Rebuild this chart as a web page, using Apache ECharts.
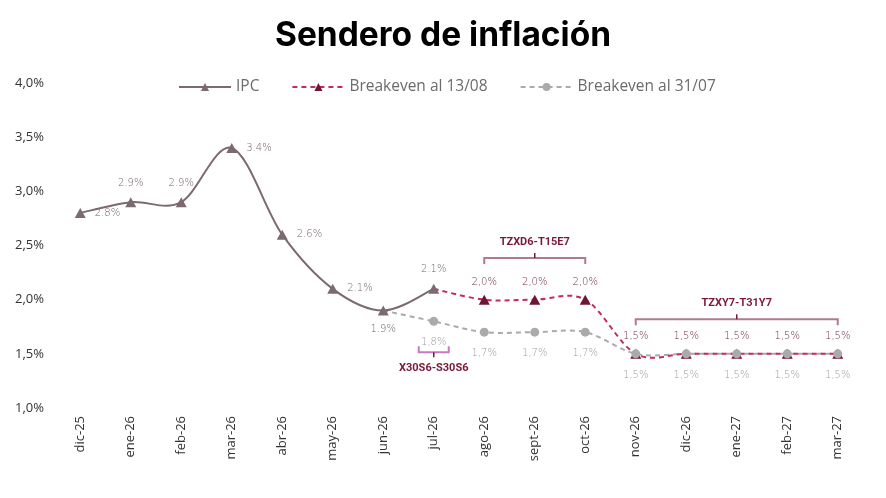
<!DOCTYPE html>
<html lang="es">
<head>
    <meta charset="UTF-8">
    <title>Sendero de inflación</title>
    <script src="https://cdn.jsdelivr.net/npm/echarts@6/dist/echarts.min.js"></script>
    <style>
        html, body { margin: 0; padding: 0; background: #fff; }
        #chart { width: 886px; height: 498px; }
    </style>
</head>
<body>
<div id="chart"></div>
<script>
    // datos
    const meses = ['dic-25', 'ene-26', 'feb-26', 'mar-26', 'abr-26', 'may-26', 'jun-26', 'jul-26',
        'ago-26', 'sept-26', 'oct-26', 'nov-26', 'dic-26', 'ene-27', 'feb-27', 'mar-27'];
    const ipc = [2.8, 2.9, 2.9, 3.4, 2.6, 2.1, 1.9, 2.1];
    const be1308 = [null, null, null, null, null, null, null, 2.1, 2.0, 2.0, 2.0, 1.5, 1.5, 1.5, 1.5, 1.5];
    const be3107 = [null, null, null, null, null, null, 1.9, 1.8, 1.7, 1.7, 1.7, 1.5, 1.5, 1.5, 1.5, 1.5];
    const ipcLabelPos = ['right', 'top', 'top', 'right', 'right', 'right', 'bottom', 'top'];
    // bonos: [desde, hasta, nivel, nombre]
    const bonos = [
        [8, 10, 2.385, 'TZXD6-T15E7'],
        [11, 15, 1.82, 'TZXY7-T31Y7'],
        [7, 7, 1.515, 'X30S6-S30S6']
    ];

    const C_IPC = '#7b6a6f', C_BE1 = '#c42a5c', C_BE1M = '#6e1434', C_BE2 = '#aaaaaa';
    const coma = v => v.toFixed(1).replace('.', ',') + '%';

    // curva suavizada estilo Excel (Catmull-Rom) sobre las coordenadas del eje
    function curva(vals, color, dash, z) {
        return {
            type: 'custom',
            silent: true,
            z: z,
            data: [[0, vals.find(v => v != null)]],
            renderItem: function (params, api) {
                const pts = [];
                vals.forEach((v, i) => { if (v != null) pts.push(api.coord([i, v])); });
                let d = 'M' + pts[0][0] + ' ' + pts[0][1];
                for (let k = 0; k < pts.length - 1; k++) {
                    const p0 = pts[k - 1] || pts[k], p1 = pts[k], p2 = pts[k + 1], p3 = pts[k + 2] || pts[k + 1];
                    const c1x = p1[0] + (p2[0] - p0[0]) / 6, c1y = p1[1] + (p2[1] - p0[1]) / 6;
                    const c2x = p2[0] - (p3[0] - p1[0]) / 6, c2y = p2[1] - (p3[1] - p1[1]) / 6;
                    d += ' C' + c1x + ' ' + c1y + ' ' + c2x + ' ' + c2y + ' ' + p2[0] + ' ' + p2[1];
                }
                return {
                    type: 'path',
                    shape: {pathData: d},
                    style: {stroke: color, lineWidth: 2, fill: null, lineDash: dash}
                };
            }
        };
    }

    const etiqueta = {
        show: true,
        fontFamily: 'DejaVu Sans',
        fontWeight: 200,
        fontSize: 10
    };

    let myChart = echarts.init(document.getElementById('chart'));

    let option = {
        animation: false,
        title: {
            text: 'Sendero de inflación',
            left: 'center',
            top: 14,
            textStyle: {fontFamily: 'Inter', fontWeight: 'bold', fontSize: 33.5, color: '#000'}
        },
        legend: {
            top: 74,
            left: 173,
            itemWidth: 52,
            itemHeight: 10,
            itemGap: 32,
            textStyle: {fontFamily: 'Open Sans', fontSize: 15.5, color: '#6b6b6b'},
            data: [
                {name: 'IPC', lineStyle: {color: C_IPC, width: 2, opacity: 1, type: 'solid'}},
                {name: 'Breakeven al 13/08', lineStyle: {color: C_BE1, width: 2, opacity: 1, type: [5, 4]}},
                {name: 'Breakeven al 31/07', lineStyle: {color: C_BE2, width: 2, opacity: 1, type: [5, 4]}}
            ]
        },
        grid: {left: 55, right: 23, top: 83, bottom: 90},
        xAxis: {
            type: 'category',
            data: meses,
            boundaryGap: true,
            axisLine: {show: false},
            axisTick: {show: false},
            axisLabel: {rotate: 90, margin: 8, fontFamily: 'Open Sans', fontSize: 13, color: '#333', interval: 0}
        },
        yAxis: {
            type: 'value',
            min: 1.0,
            max: 4.0,
            interval: 0.5,
            splitLine: {show: false},
            axisLine: {show: false},
            axisTick: {show: false},
            axisLabel: {margin: 11, fontFamily: 'Open Sans', fontSize: 13, color: '#333', formatter: v => coma(v)}
        },
        series: [
            curva(be3107, C_BE2, [5, 4], 1),
            curva(be1308, C_BE1, [5, 4], 2),
            curva(ipc, C_IPC, null, 2),
            {
                name: 'IPC',
                type: 'line',
                data: ipc.map((v, i) => ({value: v, label: {position: ipcLabelPos[i]}})),
                symbol: 'triangle',
                symbolSize: [11, 10],
                lineStyle: {color: C_IPC, opacity: 0},
                itemStyle: {color: C_IPC},
                label: Object.assign({}, etiqueta, {
                    distance: 9,
                    color: '#6f6266',
                    formatter: p => p.value.toFixed(1) + '%'
                }),
                z: 5
            },
            {
                name: 'Breakeven al 13/08',
                type: 'line',
                data: be1308.map((v, i) => i === 7 ? {value: v, symbol: 'none', label: {show: false}} : v),
                symbol: 'triangle',
                symbolSize: [11, 10],
                lineStyle: {color: C_BE1, opacity: 0},
                itemStyle: {color: C_BE1M},
                label: Object.assign({}, etiqueta, {
                    position: 'top',
                    distance: 7,
                    color: '#6e2a48',
                    formatter: p => coma(p.value)
                }),
                z: 3
            },
            {
                name: 'Breakeven al 31/07',
                type: 'line',
                data: be3107.map((v, i) => i === 6 ? {value: v, symbol: 'none', label: {show: false}} : v),
                symbol: 'circle',
                symbolSize: 9,
                lineStyle: {color: C_BE2, opacity: 0},
                itemStyle: {color: C_BE2},
                label: Object.assign({}, etiqueta, {
                    position: 'bottom',
                    distance: 12,
                    color: '#9a9a9a',
                    formatter: p => coma(p.value)
                }),
                z: 4
            },
            {
                type: 'custom',
                silent: true,
                data: bonos,
                encode: {x: [0, 1], y: 2},
                renderItem: function (params, api) {
                    const a = api.coord([api.value(0), api.value(2)]);
                    const b = api.coord([api.value(1), api.value(2)]);
                    const nombre = bonos[params.dataIndex][3];
                    const chico = a[0] === b[0];
                    let x1 = a[0], x2 = b[0], y = a[1];
                    if (chico) { x1 -= 15; x2 += 15; }
                    const cx = (x1 + x2) / 2;
                    const dir = chico ? -1 : 1;     // hacia donde bajan las puntas
                    const col = chico ? '#c879c4' : '#b07a90';
                    return {
                        type: 'group',
                        children: [
                            {
                                type: 'polyline',
                                shape: {points: [[x1, y + 6 * dir], [x1, y], [x2, y], [x2, y + 6 * dir]]},
                                style: {stroke: col, lineWidth: 2, fill: null}
                            },
                            {
                                type: 'line',
                                shape: {x1: cx, y1: y, x2: cx, y2: y - 5 * dir},
                                style: {stroke: '#7a1838', lineWidth: 1.5}
                            },
                            {
                                type: 'text',
                                x: cx,
                                y: chico ? y + 16 : y - 16,
                                style: {
                                    text: nombre,
                                    align: 'center',
                                    verticalAlign: 'middle',
                                    fontFamily: 'Roboto',
                                    fontWeight: 'bold',
                                    fontSize: 11,
                                    fill: '#7a1838'
                                }
                            }
                        ]
                    };
                },
                z: 6
            }
        ]
    };
    myChart.setOption(option);
</script>
</body>
</html>
